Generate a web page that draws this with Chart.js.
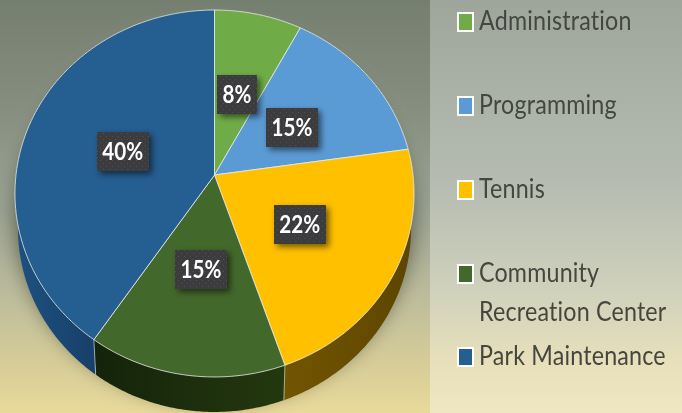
<!DOCTYPE html>
<html><head><meta charset="utf-8">
<style>html,body{margin:0;padding:0;background:#b5bbb0}#w{width:682px;height:413px;position:relative}canvas{display:block}</style>
<script src="https://cdn.jsdelivr.net/npm/chart.js@4"></script></head>
<body><div id="w"><canvas id="c" width="682" height="413"></canvas></div>
<script>
const categories=['Administration','Programming','Tennis','Community Recreation Center','Park Maintenance'];
const legendLines=[['Administration'],['Programming'],['Tennis'],['Community','Recreation Center'],['Park Maintenance']];
const values=[7.8,14.9,22.1,14.6,40.6];
const percentLabels=['8%','15%','22%','15%','40%'];
const topColors=['#6fac47','#5b9bd5','#ffc000','#43682b','#255e91'];
const sideColors=[['#3a5c24','#3a5c24'],['#2f5577','#2f5577'],['#5d4600','#725500'],['#24380f','#14240a'],['#17406a','#1d4f7e']];

// perspective of the tilted disc
const CX=214.5,CY=175,AX=198.5,BY=181.6,K=-0.1008,DEPTH=35;
function proj(t,r=1,dy=0){const u=r*Math.cos(t),v=r*Math.sin(t),w=1+K*v,s=dy?0.985:1;return [CX+s*AX*u/w,CY+BY*v/w+dy];}
function trace(ctx,a,b,r,dy,first){const n=Math.max(4,Math.ceil(Math.abs(b-a)/0.01));for(let i=0;i<=n;i++){const p=proj(a+(b-a)*i/n,r,dy);(i||!first)?ctx.lineTo(p[0],p[1]):ctx.moveTo(p[0],p[1]);}}

function dotPattern(ctx){const c=document.createElement('canvas');c.width=6;c.height=6;const g=c.getContext('2d');g.fillStyle='#3c3c3f';g.fillRect(0,0,6,6);g.fillStyle='#505053';g.fillRect(1,1,1,1);g.fillRect(4,4,1,1);return ctx.createPattern(c,'repeat');}

const tiltedPie={id:'tiltedPie',
 beforeDraw(chart){const c=chart.ctx;
  let g=c.createLinearGradient(0,0,0,413);
  g.addColorStop(0,'#757f6f');g.addColorStop(.25,'#858e7e');g.addColorStop(.5,'#9aa294');g.addColorStop(.72,'#bdbd9c');g.addColorStop(.88,'#d6cc98');g.addColorStop(1,'#e9da9a');
  c.fillStyle=g;c.fillRect(0,0,430,413);
  g=c.createLinearGradient(0,0,0,413);
  g.addColorStop(0,'#9ea69c');g.addColorStop(.45,'#b6bcb1');g.addColorStop(.7,'#cfd1bc');g.addColorStop(.88,'#e8e0bb');g.addColorStop(1,'#efe6c2');
  c.fillStyle=g;c.fillRect(430,0,252,413);
 },
 beforeDatasetsDraw(chart){const c=chart.ctx,arcs=chart.getDatasetMeta(0).data;
  // soft cast shadow
  c.save();c.beginPath();c.rect(0,0,430,413);c.clip();
  c.shadowColor='rgba(50,50,25,.75)';c.shadowBlur=22;c.shadowOffsetY=-2;c.fillStyle='#444';
  c.beginPath();trace(c,0,Math.PI*2,1,DEPTH*.75,true);c.closePath();c.fill();c.restore();
  // side walls
  arcs.forEach((arc,i)=>{const a=arc.startAngle,b=arc.endAngle;
   const xa=proj(a)[0];
   const g=(i===4)?c.createLinearGradient(xa,0,xa-70,0):c.createLinearGradient(xa,0,proj(b)[0],0);
   g.addColorStop(0,sideColors[i][0]);g.addColorStop(1,sideColors[i][1]);
   c.beginPath();trace(c,a,b,1,0,true);trace(c,b,a,1,DEPTH,false);c.closePath();c.fillStyle=g;c.fill();
   const e=proj(a,1,0),f=proj(a,1,DEPTH);
   if(f[1]>CY+100){c.beginPath();c.moveTo(e[0],e[1]);c.lineTo(f[0],f[1]);c.strokeStyle='rgba(255,255,255,.55)';c.lineWidth=1;c.stroke();}
  });
  // top face
  arcs.forEach((arc,i)=>{c.beginPath();c.moveTo(CX,CY);trace(c,arc.startAngle,arc.endAngle,1,0,false);c.closePath();
   c.fillStyle=topColors[i];c.fill();c.strokeStyle='rgba(235,240,235,.8)';c.lineWidth=1;c.stroke();});
  // data labels
  const pat=dotPattern(c);
  arcs.forEach((arc,i)=>{const p=proj((arc.startAngle+arc.endAngle)/2,.49);p[1]+=2;
   const t=percentLabels[i];c.font='700 24px Lato';const tw=c.measureText(t).width*.86,w=Math.max(40,tw+11),h=39;
   c.save();c.shadowColor='rgba(0,0,0,.55)';c.shadowBlur=6;c.shadowOffsetX=3;c.shadowOffsetY=3;c.fillStyle=pat;
   c.fillRect(Math.round(p[0]-w/2),Math.round(p[1]-h/2),Math.round(w),h);c.restore();
   c.save();c.translate(p[0],p[1]+1);c.scale(.86,1);c.fillStyle='#fff';c.textAlign='center';c.textBaseline='middle';c.fillText(t,0,0);c.restore();
  });
  // legend
  const pitch=84;c.textAlign='left';c.textBaseline='alphabetic';
  legendLines.forEach((ls,i)=>{const y=12+pitch*i-(i==4?1:0);
   c.fillStyle='#fff';c.fillRect(457,y,17,20);c.fillStyle=topColors[i];c.fillRect(459,y+2,13,16);
   c.fillStyle='#45473f';c.font='26px Lato';c.letterSpacing='0.2px';
   ls.forEach((s,j)=>{c.save();c.translate(479,y+18+j*39);c.scale(.895,1);c.fillText(s,0,0);c.restore();});
  });
  c.letterSpacing='0px';
  return false;
 }};

new Chart(document.getElementById('c'),{type:'pie',
 data:{labels:categories,datasets:[{data:values,backgroundColor:topColors}]},
 options:{responsive:false,animation:false,plugins:{legend:{display:false},tooltip:{enabled:false}}},
 plugins:[tiltedPie]});
</script></body></html>
